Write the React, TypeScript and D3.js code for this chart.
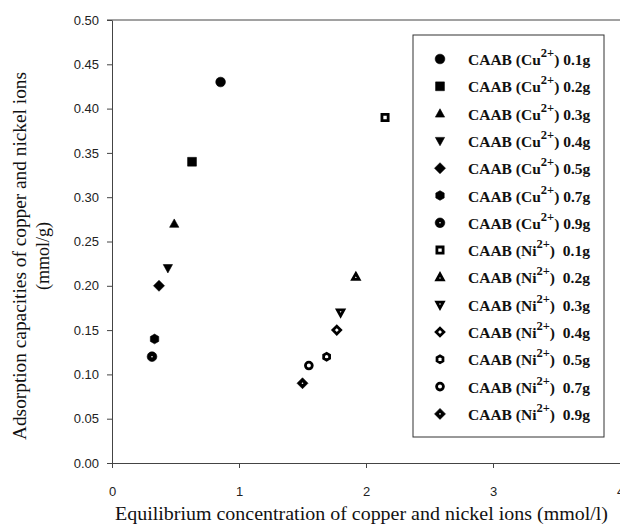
import { useEffect, useRef } from 'react';
import * as d3 from 'd3';

const doses = ['0.1g', '0.2g', '0.3g', '0.4g', '0.5g', '0.7g', '0.9g'];
const cuCe = [0.855, 0.63, 0.49, 0.44, 0.37, 0.335, 0.315];
const cuQe = [0.43, 0.34, 0.27, 0.22, 0.2, 0.14, 0.12];
const niCe = [2.15, 1.92, 1.8, 1.77, 1.69, 1.55, 1.5];
const niQe = [0.39, 0.21, 0.17, 0.15, 0.12, 0.11, 0.09];
const xTicks = [0, 1, 2, 3, 4];
const yTicks = [0, 0.05, 0.1, 0.15, 0.2, 0.25, 0.3, 0.35, 0.4, 0.45, 0.5];

const cuShapes = ['circle', 'square', 'triangle', 'down', 'diamond', 'hexagon', 'dotcircle'];
const niShapes = ['square', 'triangle', 'down', 'diamond', 'hexagon', 'circle', 'dotdiamond'];

const W = 620;
const H = 525;

// path for one marker, centred at 0,0
const shapePath = (kind: string, r: number) => {
  switch (kind) {
    case 'square':
      return `M${-r},${-r}H${r}V${r}H${-r}Z`;
    case 'triangle':
      return `M0,${-r * 1.1}L${r * 1.05},${r * 0.8}H${-r * 1.05}Z`;
    case 'down':
      return `M0,${r * 1.1}L${r * 1.05},${-r * 0.8}H${-r * 1.05}Z`;
    case 'diamond':
    case 'dotdiamond':
      return `M0,${-r * 1.25}L${r * 1.25},0L0,${r * 1.25}L${-r * 1.25},0Z`;
    case 'hexagon': {
      const pts = d3.range(6).map((i) => {
        const a = (Math.PI / 3) * i + Math.PI / 6;
        return [Math.cos(a) * r * 1.1, Math.sin(a) * r * 1.1];
      });
      return 'M' + pts.map((p) => p.join(',')).join('L') + 'Z';
    }
    default:
      return d3.arc()({ innerRadius: 0, outerRadius: r * 1.1, startAngle: 0, endAngle: 2 * Math.PI }) as string;
  }
};

const drawMarker = (
  g: d3.Selection<SVGGElement, unknown, null, undefined>,
  kind: string,
  open: boolean,
  cx: number,
  cy: number
) => {
  const m = g.append('g').attr('transform', `translate(${cx},${cy})`);
  const r = open ? 3.1 : 4.4;
  m.append('path')
    .attr('d', shapePath(kind, r))
    .attr('fill', open ? '#fff' : '#000')
    .attr('stroke', '#000')
    .attr('stroke-width', open ? 2.8 : 0.6);
  if (kind === 'dotcircle' || kind === 'dotdiamond') {
    m.append('circle').attr('r', 0.8).attr('fill', '#fff');
  }
};

export default function App() {
  const ref = useRef<SVGSVGElement | null>(null);

  useEffect(() => {
    if (!ref.current) return;
    const svg = d3.select(ref.current);
    svg.selectAll('*').remove();

    const x = d3.scaleLinear().domain([0, 4]).range([112, 620]);
    const y = d3.scaleLinear().domain([0, 0.5]).range([463, 20]);

    svg.append('rect').attr('width', W).attr('height', H).attr('fill', '#fff');

    // top frame line
    svg
      .append('line')
      .attr('x1', 107)
      .attr('x2', W)
      .attr('y1', y(0.5))
      .attr('y2', y(0.5))
      .attr('stroke', '#444');

    const yAxis = svg
      .append('g')
      .attr('transform', `translate(${x(0)},0)`)
      .call(
        d3
          .axisLeft(y)
          .tickValues(yTicks)
          .tickFormat(d3.format('.2f'))
          .tickSize(5)
          .tickSizeOuter(0)
          .tickPadding(8)
      );
    yAxis.selectAll('text').attr('font-family', 'Liberation Sans, Arial, sans-serif').attr('font-size', 13).attr('fill', '#222');
    yAxis.selectAll('line, path').attr('stroke', '#444');

    const xAxis = svg
      .append('g')
      .attr('transform', `translate(0,${y(0)})`)
      .call(d3.axisBottom(x).tickValues(xTicks).tickFormat(d3.format('d')).tickSize(5).tickSizeOuter(0).tickPadding(19));
    xAxis.selectAll('text').attr('font-family', 'Liberation Sans, Arial, sans-serif').attr('font-size', 13).attr('fill', '#222');
    xAxis.selectAll('line, path').attr('stroke', '#444');

    // axis titles
    svg
      .append('text')
      .attr('x', 115)
      .attr('y', 520)
      .attr('textLength', 493)
      .attr('lengthAdjust', 'spacingAndGlyphs')
      .attr('font-family', 'Liberation Serif, Times New Roman, serif')
      .attr('font-size', 18)
      .attr('fill', '#111')
      .text('Equilibrium concentration of copper and nickel ions (mmol/l)');

    const cyT = 256;
    svg
      .append('text')
      .attr('transform', `translate(26,${cyT + 184}) rotate(-90)`)
      .attr('textLength', 368)
      .attr('lengthAdjust', 'spacingAndGlyphs')
      .attr('font-family', 'Liberation Serif, Times New Roman, serif')
      .attr('font-size', 18)
      .attr('fill', '#111')
      .text('Adsorption capacities of copper and nickel ions');
    svg
      .append('text')
      .attr('transform', `translate(49,${cyT}) rotate(-90)`)
      .attr('text-anchor', 'middle')
      .attr('font-family', 'Liberation Serif, Times New Roman, serif')
      .attr('font-size', 18)
      .attr('fill', '#111')
      .text('(mmol/g)');

    const plot = svg.append('g');
    doses.forEach((_, i) => {
      drawMarker(plot, cuShapes[i], false, x(cuCe[i]), y(cuQe[i]));
      drawMarker(plot, niShapes[i], niShapes[i] !== 'dotdiamond', x(niCe[i]), y(niQe[i]));
    });

    // legend
    const lg = svg.append('g');
    lg.append('rect')
      .attr('x', 413)
      .attr('y', 35)
      .attr('width', 191)
      .attr('height', 402)
      .attr('fill', '#fff')
      .attr('stroke', '#333');

    const entries = [
      ...doses.map((d, i) => ({ ion: 'Cu', dose: d, shape: cuShapes[i], open: false })),
      ...doses.map((d, i) => ({ ion: 'Ni', dose: d, shape: niShapes[i], open: niShapes[i] !== 'dotdiamond' })),
    ];
    entries.forEach((e, i) => {
      const cy = 59 + i * 27.3;
      drawMarker(lg, e.shape, e.open, 440, cy);
      const t = lg
        .append('text')
        .attr('x', 468)
        .attr('y', cy + 6)
        .attr('font-family', 'Liberation Serif, Times New Roman, serif')
        .attr('font-weight', 'bold')
        .attr('font-size', 15.5)
        .attr('fill', '#111');
      t.append('tspan').text(`CAAB (${e.ion}`);
      t.append('tspan').attr('dy', -8).attr('font-size', 12.5).text('2+');
      t.append('tspan').attr('dy', 8).text(e.ion === 'Ni' ? ')\u00a0 ' + e.dose : ') ' + e.dose);
    });
  }, []);

  return (
    <svg
      ref={ref}
      width={W}
      height={H}
      style={{ position: 'absolute', left: 0, top: 0, display: 'block' }}
    />
  );
}
